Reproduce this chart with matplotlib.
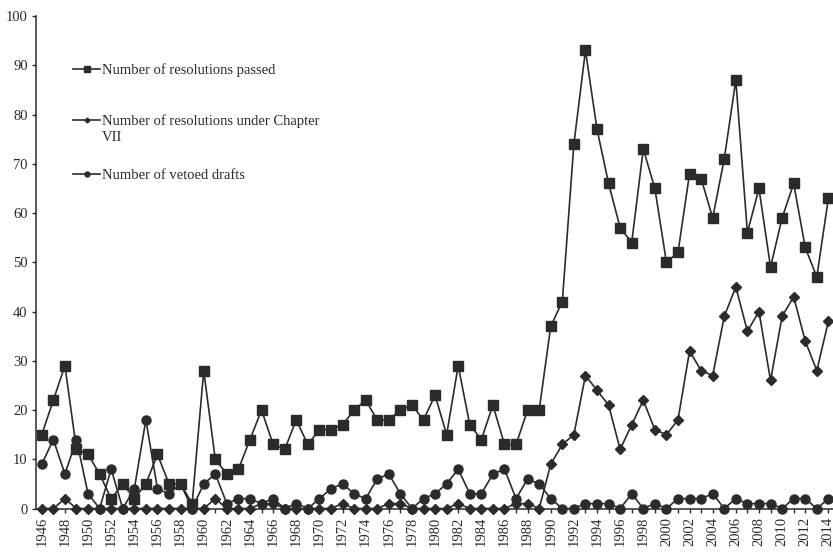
import matplotlib
matplotlib.use("Agg")
import matplotlib.pyplot as plt

years = list(range(1946, 2015))

passed = [15, 22, 29, 12, 11, 7, 2, 5, 2, 5,
          11, 5, 5, 1, 28, 10, 7, 8, 14, 20,
          13, 12, 18, 13, 16, 16, 17, 20, 22, 18,
          18, 20, 21, 18, 23, 15, 29, 17, 14, 21,
          13, 13, 20, 20, 37, 42, 74, 93, 77, 66,
          57, 54, 73, 65, 50, 52, 68, 67, 59, 71,
          87, 56, 65, 49, 59, 66, 53, 47, 63]

chapter7 = [0, 0, 2, 0, 0, 0, 0, 0, 0, 0,
            0, 0, 0, 0, 0, 2, 0, 0, 0, 1,
            1, 0, 0, 0, 0, 0, 1, 0, 0, 0,
            1, 1, 0, 0, 0, 0, 1, 0, 0, 0,
            0, 1, 1, 0, 9, 13, 15, 27, 24, 21,
            12, 17, 22, 16, 15, 18, 32, 28, 27, 39,
            45, 36, 40, 26, 39, 43, 34, 28, 38]

vetoed = [9, 14, 7, 14, 3, 0, 8, 0, 4, 18,
          4, 3, 5, 0, 5, 7, 1, 2, 2, 1,
          2, 0, 1, 0, 2, 4, 5, 3, 2, 6,
          7, 3, 0, 2, 3, 5, 8, 3, 3, 7,
          8, 2, 6, 5, 2, 0, 0, 1, 1, 1,
          0, 3, 0, 1, 0, 2, 2, 2, 3, 0,
          2, 1, 1, 1, 0, 2, 2, 0, 2]

label_passed = "Number of resolutions passed"
label_ch7 = "Number of resolutions under Chapter"
label_ch7_cont = "VII"
label_veto = "Number of vetoed drafts"

plt.rcParams['font.family'] = ['Liberation Serif', 'DejaVu Serif']
ink = '#2b2b2b'

fig = plt.figure(figsize=(8.33, 5.54), dpi=100)
ax = fig.add_axes([0.0432, 0.0821, 0.9568, 0.889])

l3, = ax.plot(years, vetoed, color=ink, lw=1.2, marker='o', ms=6.5,
              mfc=ink, mec=ink, clip_on=False, zorder=3)
l2, = ax.plot(years, chapter7, color=ink, lw=1.2, marker='D', ms=4.6,
              mfc=ink, mec=ink, clip_on=False, zorder=4)
l1, = ax.plot(years, passed, color=ink, lw=1.2, marker='s', ms=6.8,
              mfc=ink, mec=ink, clip_on=False, zorder=5)

ax.set_xlim(1945.5, 2014.4)
ax.set_ylim(0, 100)
ax.set_yticks(range(0, 101, 10))
ax.set_xticks(years, minor=True)
ax.set_xticks(years[::2])
ax.set_xticklabels([str(y) for y in years[::2]], rotation=90)

for s in ['top', 'right']:
    ax.spines[s].set_visible(False)
for s in ['left', 'bottom']:
    ax.spines[s].set_color(ink)
    ax.spines[s].set_linewidth(1.1)

ax.tick_params(axis='both', which='both', colors=ink, labelsize=10.5,
               width=1.0)
ax.tick_params(axis='y', length=3, pad=3)
ax.tick_params(axis='x', which='major', length=3, pad=3)
ax.tick_params(axis='x', which='minor', length=3)

common = dict(loc='center left', frameon=False, fontsize=10.5,
              handlelength=1.9, handletextpad=0.12, borderpad=0,
              borderaxespad=0, markerscale=0.55, labelcolor=ink)
x_leg = 0.046
leg1 = ax.legend([l1], [label_passed], bbox_to_anchor=(x_leg, 0.890), **common)
ax.add_artist(leg1)
leg2 = ax.legend([l2], [label_ch7], bbox_to_anchor=(x_leg, 0.787), **common)
ax.add_artist(leg2)
leg3 = ax.legend([l3], [label_veto], bbox_to_anchor=(x_leg, 0.677), **common)

# continuation line of the wrapped second legend label, aligned with its text
fig.canvas.draw()
t2 = leg2.get_texts()[0]
bb = t2.get_window_extent()
x_txt = ax.transAxes.inverted().transform((bb.x0, bb.y0))[0]
ax.text(x_txt, 0.754, label_ch7_cont, transform=ax.transAxes, ha='left',
        va='center', fontsize=10.5, color=ink)

fig.savefig('out.png', dpi=100, facecolor='white')
